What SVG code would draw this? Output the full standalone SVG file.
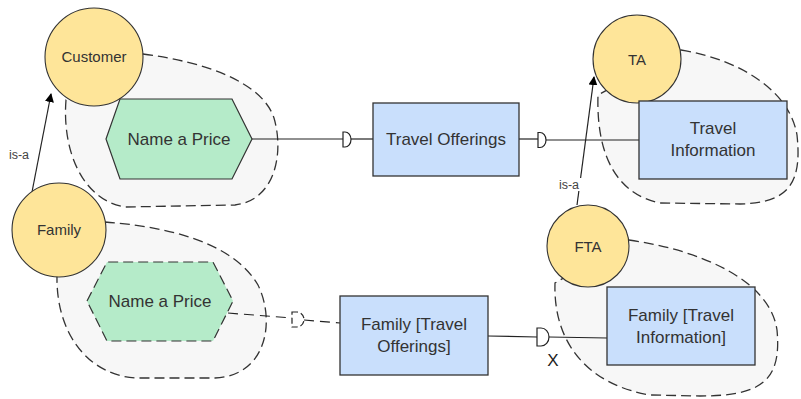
<svg xmlns="http://www.w3.org/2000/svg" width="801" height="399" viewBox="0 0 801 399">
<defs>
<style>
.blob{fill:#f7f7f7;stroke:#333;stroke-width:1.3;stroke-dasharray:10,5}
.circ{fill:#fee599;stroke:#333;stroke-width:1.1}
.hex{fill:#b5ebc9;stroke:#333;stroke-width:1.2}
.box{fill:#c9dffc;stroke:#333;stroke-width:1.3}
.t{font-family:"Liberation Sans",Arial,sans-serif;fill:#333;text-anchor:middle}
.c{font-size:15px}
.n{font-size:17px}
.s{font-size:12.5px;fill:#444}
.ln{fill:none;stroke:#222;stroke-width:1.2}
.dl{fill:none;stroke:#222;stroke-width:1.2;stroke-dasharray:10,6}
.sock{fill:#fff;stroke:#222;stroke-width:1.2}
</style>
<marker id="ah" viewBox="0 0 10 10" refX="9" refY="5" markerWidth="9" markerHeight="9" markerUnits="userSpaceOnUse" orient="auto"><path d="M0,0 L10,5 L0,10 Z" fill="#000"/></marker>
</defs>
<rect width="801" height="399" fill="#fff"/>
<g id="blob-customer"><path class="blob" d="M143,54 C205,62 262,82 274,118 C284,152 276,200 235,205 L125,207 C82,200 62,150 66,100 Z"/></g>
<g id="blob-family"><path class="blob" d="M105,222 C160,226 232,240 258,285 C276,322 266,376 215,378 L135,378 C85,374 56,330 57,276 Z"/></g>
<g id="blob-ta"><path class="blob" d="M681,50 C742,60 790,92 797,135 C802,182 790,203 740,204 L660,203 C620,195 596,160 598,95 Z"/></g>
<g id="blob-fta"><path class="blob" d="M629,240 C700,250 770,280 777,330 C782,382 760,396 700,396 L650,395 C590,385 553,345 555,283 Z"/></g>
<g id="connectors">
<path class="ln" d="M252,139 L343,139"/>
<path class="sock" d="M343,132 L345,132 A6,7.5 0 0 1 345,147 L343,147 Z"/>
<path class="ln" d="M351,139 L373,139"/>
<path class="ln" d="M519,139 L538,139"/>
<path class="sock" d="M538,132.5 L540,132.5 A6,7.5 0 0 1 540,147.5 L538,147.5 Z"/>
<path class="ln" d="M546,140 L639,140"/>
<path class="dl" d="M228,313 L292,318"/>
<path class="sock" style="stroke-dasharray:6,3" d="M292,312 L297,312 A7,7.5 0 0 1 297,327 L292,327 Z"/>
<path class="dl" d="M304,320 L340,323"/>
<path class="ln" d="M488,336 L537,337"/>
<path class="sock" d="M537,328 L541,328 A8,9 0 0 1 541,346 L537,346 Z"/>
<path class="ln" d="M549,337 L607,338"/>
<text class="t" x="553" y="366" style="font-size:17px;fill:#222">X</text>
<path class="ln" d="M32,192 L51,94" marker-end="url(#ah)"/>
<text class="t s" x="19" y="159">is-a</text>
<path class="ln" d="M577,205 L594,77" marker-end="url(#ah)"/>
<rect x="557" y="178" width="25" height="13" fill="#fff"/>
<text class="t s" x="569" y="189">is-a</text>
</g>
<g id="customer"><circle class="circ" cx="94" cy="57" r="49"/><text class="t c" x="94" y="62">Customer</text></g>
<g id="family"><circle class="circ" cx="59" cy="230" r="47"/><text class="t c" x="59" y="235">Family</text></g>
<g id="ta"><circle class="circ" cx="637" cy="59" r="44"/><text class="t c" x="637" y="65">TA</text></g>
<g id="fta"><circle class="circ" cx="588" cy="246" r="41"/><text class="t c" x="588" y="252">FTA</text></g>
<g id="name-a-price"><path class="hex" d="M106,139 L120,99 L232,99 L252,139 L232,179 L120,179 Z"/><text class="t n" x="179" y="145">Name a Price</text></g>
<g id="family-name-a-price"><path class="hex" style="stroke-dasharray:10,5" d="M87,301 L107,262 L213,262 L233,301 L213,341 L107,341 Z"/><text class="t n" x="160" y="307">Name a Price</text></g>
<g id="travel-offerings"><rect class="box" x="373" y="103" width="146" height="73"/><text class="t n" x="446" y="145">Travel Offerings</text></g>
<g id="travel-information"><rect class="box" x="639" y="101" width="148" height="78"/><text class="t n" x="713" y="134">Travel</text><text class="t n" x="713" y="156">Information</text></g>
<g id="family-travel-offerings"><rect class="box" x="340" y="296" width="148" height="79"/><text class="t n" x="414" y="330">Family [Travel</text><text class="t n" x="414" y="352">Offerings]</text></g>
<g id="family-travel-information"><rect class="box" x="607" y="287" width="148" height="78"/><text class="t n" x="681" y="321">Family [Travel</text><text class="t n" x="681" y="343">Information]</text></g>
</svg>
